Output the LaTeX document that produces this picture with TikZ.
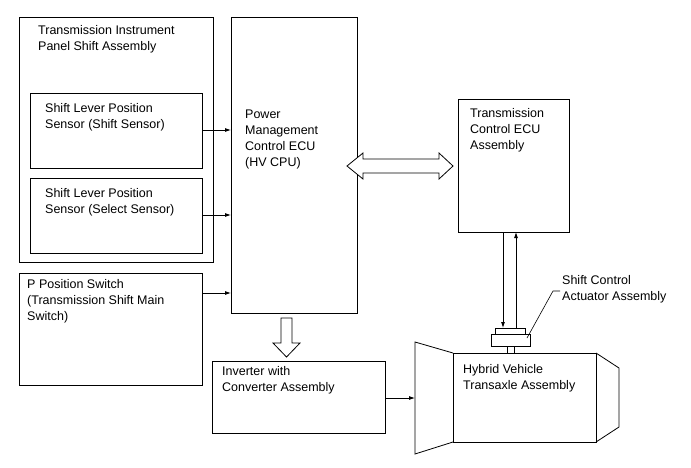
\documentclass[tikz,border=0pt]{standalone}
\usepackage{fontspec}
\setmainfont{Liberation Sans}
\usetikzlibrary{arrows.meta}
\begin{document}
\begin{tikzpicture}[x=1pt,y=-1pt,
  box/.style={draw,line width=0.8pt},
  lbl/.style={anchor=north west,align=left,font=\fontsize{12.5}{16}\selectfont,inner sep=0pt},
  arr/.style={draw,line width=0.8pt,-{Latex[length=6pt,width=4pt]}}]
\useasboundingbox (0,0) rectangle (691,467);
\draw[box] (19,17) rectangle (213,262);
\node[lbl] (tl) at (38,25) {Transmission Instrument\\Panel Shift Assembly};
\draw[box] (30,93) rectangle (202,168);
\node[lbl] at (45,103) {Shift Lever Position\\Sensor (Shift Sensor)};
\draw[box] (30,178) rectangle (202,253);
\node[lbl] at (45,188) {Shift Lever Position\\Sensor (Select Sensor)};
\draw[box] (231,17) rectangle (357,313);
\node[lbl] at (245,110) {Power\\Management\\Control ECU\\(HV CPU)};
\draw[box] (19,273) rectangle (202,385);
\node[lbl] at (27,279) {P Position Switch\\(Transmission Shift Main\\Switch)};
\draw[box] (212,361) rectangle (385,433);
\node[lbl] at (222,366) {Inverter with\\Converter Assembly};
\draw[box] (458,99) rectangle (569,232);
\node[lbl] at (470,108) {Transmission\\Control ECU\\Assembly};
\draw[arr] (202,130) -- (231,130);
\draw[arr] (202,215) -- (231,215);
\draw[arr] (202,293) -- (231,293);
\draw[arr] (385,398) -- (415,398);
% double hollow arrow
\draw[line width=0.8pt,fill=white] (347,166) -- (363,153) -- (363,159) -- (439,159) -- (439,153) -- (453,166) -- (439,179) -- (439,173) -- (363,173) -- (363,179) -- cycle;
% hollow down arrow
\draw[line width=0.8pt,fill=white] (281,318) -- (292,318) -- (292,343) -- (300,343) -- (286.5,357) -- (273,343) -- (281,343) -- cycle;
% transaxle
\draw[box] (453,353) rectangle (596,442);
\draw[box] (453,353) -- (415,342) -- (415,454) -- (453,442);
\draw[box] (596,353) -- (619,368) -- (619,427) -- (596,442);
\node[lbl] at (463,364) {Hybrid Vehicle\\Transaxle Assembly};
% actuator
\draw[box] (491,334) rectangle (530,346);
\draw[box] (495,328) rectangle (525,334);
\draw[line width=0.6pt] (507,346) -- (507,353) (514,346) -- (514,353);
\draw[arr] (503,232) -- (503,328);
\draw[arr] (516,328) -- (516,232);
\draw[line width=0.6pt] (527,338) -- (553,291) -- (560,291);
\node[lbl] at (562,275) {Shift Control\\Actuator Assembly};
\end{tikzpicture}
\end{document}
